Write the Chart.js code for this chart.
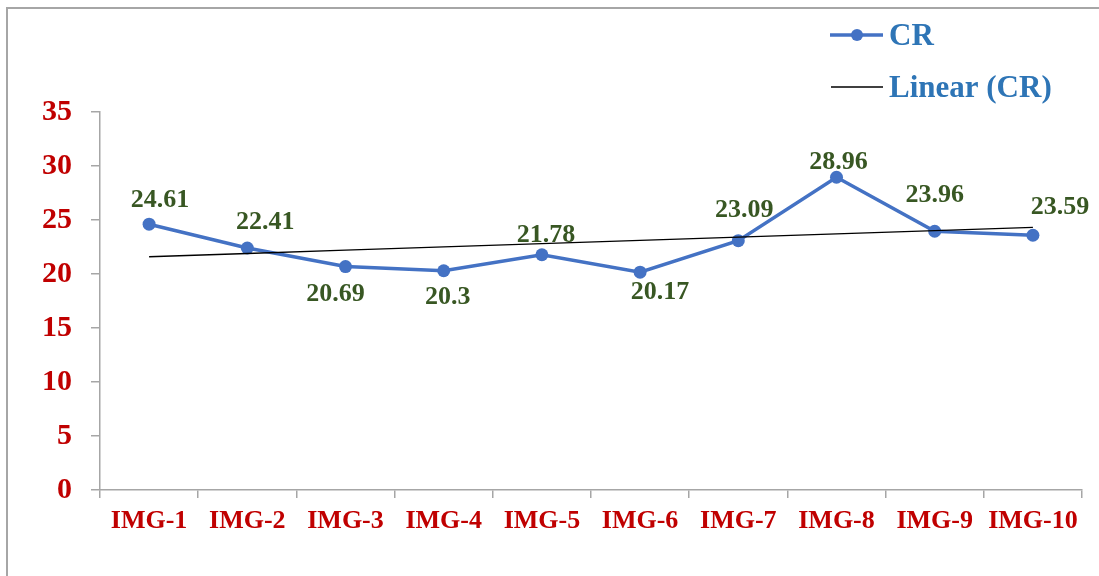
<!DOCTYPE html>
<html>
<head>
<meta charset="utf-8">
<script src="https://cdn.jsdelivr.net/npm/chart.js@4"></script>
<style>
  html, body { margin: 0; padding: 0; overflow: hidden; background: #fff; }
  #frame { position: absolute; left: 6px; top: 7px; width: 1300px; height: 800px; border: 2px solid #a6a6a6; }
  #wrap { position: absolute; left: 0; top: 0; width: 1099px; height: 576px; }
</style>
</head>
<body>
<div id="frame"></div>
<div id="wrap"><canvas id="crChart" width="1099" height="576"></canvas></div>
<script>
  // CR values per image
  const imageLabels = ['IMG-1', 'IMG-2', 'IMG-3', 'IMG-4', 'IMG-5', 'IMG-6', 'IMG-7', 'IMG-8', 'IMG-9', 'IMG-10'];
  const crValues = [24.61, 22.41, 20.69, 20.3, 21.78, 20.17, 23.09, 28.96, 23.96, 23.59];
  const yTicks = [0, 5, 10, 15, 20, 25, 30, 35];

  // Linear trendline (least squares, like Excel's "Linear (CR)")
  function linearTrend(values) {
    const n = values.length;
    const xs = values.map((v, i) => i + 1);
    const mx = xs.reduce((a, b) => a + b, 0) / n;
    const my = values.reduce((a, b) => a + b, 0) / n;
    let sxy = 0, sxx = 0;
    xs.forEach((x, i) => { sxy += (x - mx) * (values[i] - my); sxx += (x - mx) * (x - mx); });
    const slope = sxy / sxx;
    return xs.map(x => my + slope * (x - mx));
  }
  const trendValues = linearTrend(crValues);

  const serif = "'Liberation Serif', 'Times New Roman', serif";
  const axisGray = '#a6a6a6';
  const labelRed = '#c00000';
  const valueGreen = '#385723';
  const legendBlue = '#2e75b6';

  // manual label nudges (dx, dy from the point), like the hand-placed Excel labels
  const labelNudge = [[11, -26], [18, -28], [-10, 26], [4, 24], [4, -22], [20, 18], [6, -32], [2, -17], [0, -38], [27, -30]];

  const valueLabels = {
    id: 'valueLabels',
    afterDatasetsDraw(chart) {
      const ctx = chart.ctx;
      const meta = chart.getDatasetMeta(1);
      ctx.save();
      ctx.font = 'bold 26px ' + serif;
      ctx.fillStyle = valueGreen;
      ctx.textAlign = 'center';
      ctx.textBaseline = 'alphabetic';
      meta.data.forEach((pt, i) => {
        const [dx, dy] = labelNudge[i];
        ctx.fillText(String(crValues[i]), pt.x + dx, pt.y + dy + 26 * 0.34);
      });
      ctx.restore();
    }
  };

  const sideLegend = {
    id: 'sideLegend',
    afterDraw(chart) {
      const ctx = chart.ctx;
      const cr = chart.data.datasets[1];
      const tr = chart.data.datasets[0];
      ctx.save();
      // CR entry
      ctx.strokeStyle = cr.borderColor;
      ctx.lineWidth = 3.5;
      ctx.beginPath(); ctx.moveTo(830, 35); ctx.lineTo(883, 35); ctx.stroke();
      ctx.fillStyle = cr.borderColor;
      ctx.beginPath(); ctx.arc(857, 35, 6, 0, Math.PI * 2); ctx.fill();
      // Linear entry
      ctx.strokeStyle = tr.borderColor;
      ctx.lineWidth = 1.5;
      ctx.beginPath(); ctx.moveTo(831, 87); ctx.lineTo(883, 87); ctx.stroke();
      ctx.font = 'bold 31px ' + serif;
      ctx.fillStyle = legendBlue;
      ctx.textAlign = 'left';
      ctx.textBaseline = 'alphabetic';
      ctx.fillText(cr.label, 889, 35 + 31 * 0.33);
      ctx.fillText(tr.label, 889, 87 + 31 * 0.33);
      ctx.restore();
    }
  };

  const ctxCR = document.getElementById('crChart').getContext('2d');
  new Chart(ctxCR, {
    type: 'line',
    data: {
      labels: imageLabels,
      datasets: [{
        label: 'Linear (CR)',
        data: trendValues,
        borderColor: '#000000',
        borderWidth: 1.3,
        pointRadius: 0,
        fill: false,
        order: 0,
      }, {
        label: 'CR',
        data: crValues,
        borderColor: '#4472c4',
        backgroundColor: '#4472c4',
        borderWidth: 3.5,
        pointRadius: 6.5,
        pointBorderWidth: 0,
        pointBackgroundColor: '#4472c4',
        tension: 0,
        fill: false,
        order: 1,
      }],
    },
    options: {
      responsive: false,
      animation: false,
      layout: { padding: { left: 0, top: 112, right: 17, bottom: 0 } },
      plugins: {
        legend: { display: false },
        tooltip: { enabled: false },
      },
      scales: {
        x: {
          offset: true,
          grid: { offset: true, drawOnChartArea: false, drawTicks: true, tickLength: 8, color: axisGray, lineWidth: 1.5 },
          border: { display: true, color: axisGray, width: 1.5 },
          ticks: { color: labelRed, font: { family: serif, size: 26, weight: 'bold' }, padding: 8, maxRotation: 0, autoSkip: false },
          afterFit(scale) { scale.height = 86; },
        },
        y: {
          min: 0,
          max: 35,
          afterBuildTicks(scale) { scale.ticks = yTicks.map(v => ({ value: v })); },
          grid: { drawOnChartArea: false, drawTicks: true, tickLength: 9, color: axisGray, lineWidth: 1.5 },
          border: { display: true, color: axisGray, width: 1.5 },
          ticks: { color: labelRed, font: { family: serif, size: 30, weight: 'bold' }, padding: 19 },
          afterFit(scale) { scale.width = 100; },
        },
      },
    },
    plugins: [valueLabels, sideLegend],
  });
</script>
</body>
</html>
